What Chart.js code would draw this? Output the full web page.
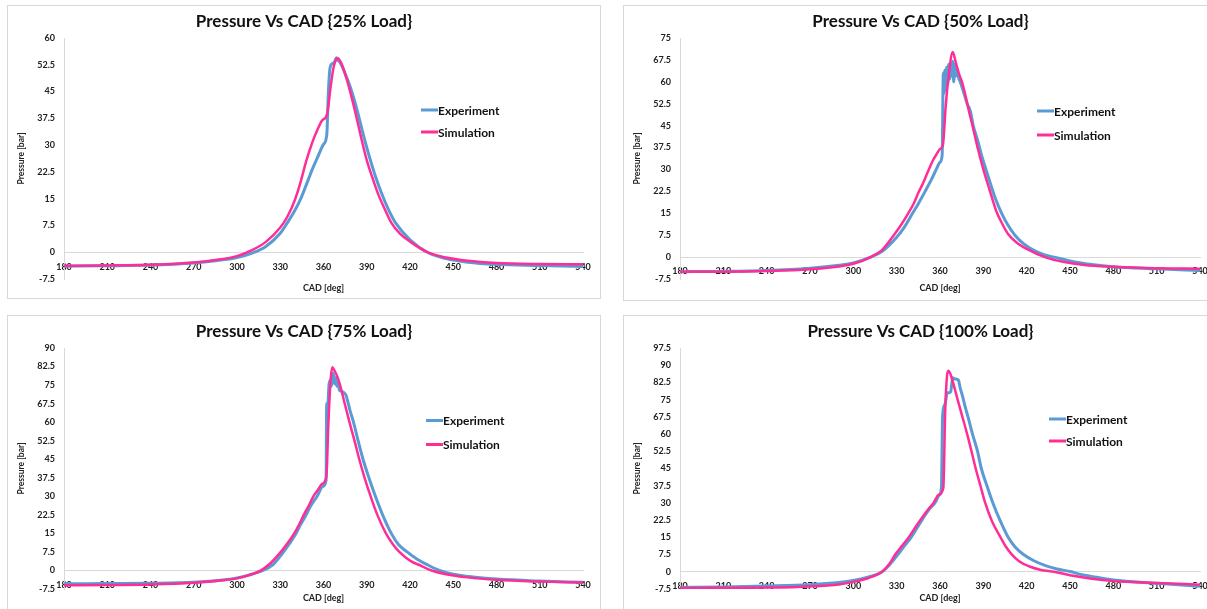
<!DOCTYPE html>
<html>
<head>
<meta charset="utf-8">
<script src="https://cdn.jsdelivr.net/npm/chart.js@4"></script>
<style>
  html, body { margin: 0; padding: 0; background: #fff; overflow: hidden; }
  body { width: 1207px; height: 609px; position: relative; }
  .panel { position: absolute; border: 1px solid #d9d9d9; box-sizing: border-box; background: #fff; overflow: hidden; }
  .panel canvas { position: absolute; left: 0; top: 0; }
</style>
</head>
<body>
<div class="panel" style="left:7px;top:5px;width:594px;height:294px"><canvas id="c25" width="592" height="293"></canvas></div>
<div class="panel" style="left:623px;top:5px;width:600px;height:296px"><canvas id="c50" width="600" height="293"></canvas></div>
<div class="panel" style="left:7px;top:315px;width:594px;height:300px"><canvas id="c75" width="592" height="293"></canvas></div>
<div class="panel" style="left:623px;top:315px;width:600px;height:300px"><canvas id="c100" width="600" height="293"></canvas></div>
<script>
'use strict';

// ---- data (CAD in deg, pressure in bar) ----
const cadTicks = [180, 210, 240, 270, 300, 330, 360, 390, 420, 450, 480, 510, 540];

// 25% load
const cad25Exp = [180, 210, 240, 270, 285, 300, 310, 320, 330, 335, 340, 344, 348, 352, 356, 360, 362.3, 363.3, 364.5, 366, 367.5, 369, 370.5, 372, 374, 377, 380, 383, 386, 389, 392, 396, 400, 405, 410, 420, 432, 445, 460, 480, 510, 540];
const p25Exp = [-3.9, -3.8, -3.6, -3.0, -2.4, -1.5, -0.3, 1.6, 5.3, 8.3, 11.6, 14.8, 18.8, 23, 26.7, 30.2, 33, 44, 51.5, 52.8, 53.2, 54.5, 53.6, 52.8, 51, 48, 44.5, 40.3, 35.5, 30.8, 26.5, 21.3, 16.8, 12, 8.2, 3.5, 0, -1.8, -2.8, -3.4, -3.7, -4.0];
const cad25Sim = [180, 210, 240, 270, 285, 300, 310, 320, 330, 335, 340, 344, 348, 352, 356, 359, 362.5, 365, 367, 369, 370, 371.5, 373.5, 376, 379, 382, 386, 390, 394, 398, 402, 407, 413, 420, 432, 445, 460, 480, 510, 540];
const p25Sim = [-3.8, -3.7, -3.5, -2.9, -2.2, -1.1, 0.5, 2.9, 6.9, 10, 14.5, 19.5, 25.5, 30.5, 34.5, 36.9, 38.7, 46.5, 51.8, 54.1, 54.3, 53.6, 51.8, 48.6, 44.2, 39.3, 32.3, 25.8, 20.8, 16.2, 12.5, 8.3, 5.2, 3.0, 0, -1.5, -2.4, -3.0, -3.3, -3.4];

// 50% load
const cad50Exp = [180, 210, 240, 270, 290, 300, 312, 320, 330, 335, 341, 345, 349.7, 354, 357.4, 360, 361.5, 362.3, 362.8, 363.3, 364, 364.6, 365.3, 366, 366.7, 367.4, 368.1, 368.8, 369.5, 370.2, 371, 371.8, 372.8, 374, 376, 378.8, 381, 383, 386, 389, 391.8, 395, 398, 402.7, 407, 411.9, 418, 425, 432, 439, 450, 465, 480, 510, 540];
const p50Exp = [-5.0, -4.9, -4.6, -3.8, -2.8, -2.0, 0, 2.0, 6.8, 10, 15, 18.3, 22.5, 26.5, 30, 32.5, 35, 63, 56, 64, 57, 65, 59, 66, 61, 66.5, 62, 67, 60, 66, 62, 64.5, 61.5, 60, 57, 52.5, 50, 45, 40, 34.5, 30, 25, 20.5, 15, 11, 7.5, 4.5, 2.3, 0.8, 0, -1.3, -2.5, -3.3, -4.0, -4.6];
const cad50Sim = [180, 210, 240, 270, 290, 300, 312, 320, 328, 333, 338, 342, 345, 348, 351, 355, 358, 360, 362, 364, 366, 368.8, 371, 373, 375.5, 378, 380, 382.5, 386, 390, 394, 399, 403, 407, 413, 420, 433, 445, 460, 480, 510, 540];
const p50Sim = [-5.0, -5.0, -4.8, -4.2, -3.2, -2.3, 0, 2.5, 7.5, 11, 15, 18.5, 22, 25, 28.5, 33, 35.5, 37, 38.3, 52, 62, 70.2, 66.5, 63, 59.5, 54.5, 50, 45, 37.5, 30, 23.5, 15.7, 11.5, 8, 5, 2.8, -0.1, -1.6, -2.7, -3.3, -3.8, -4.0];

// 75% load
const cad75Exp = [180, 210, 240, 270, 290, 300, 308, 318, 325, 331, 336, 340.5, 344, 347.5, 351, 355.6, 359.5, 361.8, 362.2, 363, 363.8, 364.6, 365.4, 366.2, 366.8, 367.6, 368.4, 369.2, 370, 371, 372.5, 374, 375.5, 377, 378.5, 380.8, 384, 387.4, 391.5, 396, 401, 407, 412, 418, 425, 432, 440.5, 450, 465, 480, 510, 540];
const p75Exp = [-5.4, -5.3, -5.2, -4.8, -3.9, -3.0, -1.9, 0, 2.4, 6.5, 10.5, 14.5, 18.5, 22, 26, 30, 34, 36.5, 67.5, 67.5, 75, 77, 74.5, 78, 79.8, 75.5, 78, 74.5, 76, 73, 72.5, 72, 71, 68, 64.5, 60, 52.5, 45, 37.5, 30, 22.5, 15, 10.5, 7.5, 4.5, 2.3, 0, -1.5, -2.7, -3.5, -4.3, -4.8];
const cad75Sim = [180, 210, 240, 270, 290, 300, 308, 316, 323, 330.4, 335, 339.7, 343, 346.3, 350, 353, 356, 359, 362, 363.3, 364.8, 366.1, 367.5, 369.5, 371.5, 374.5, 378, 381.5, 384.8, 388.5, 392.7, 397, 403.3, 408, 412.6, 420, 428, 435, 445, 460, 480, 510, 540];
const p75Sim = [-6.0, -5.9, -5.7, -5.0, -4.0, -3.2, -2.0, -0.2, 2.8, 7.5, 11, 15, 18.5, 22.5, 26.5, 30, 32.5, 35, 38, 58, 76, 82.2, 81, 78.5, 75, 68, 60, 52.5, 45, 37.5, 30, 23, 15, 10.7, 7.5, 4.0, 1.8, 0, -1.5, -2.8, -3.8, -4.5, -4.9];

// 100% load
const cad100Exp = [180, 210, 240, 270, 290, 300, 310, 320, 325, 330, 335, 340, 345, 350, 353.5, 356.5, 359.5, 361, 361.8, 363.5, 365, 366.2, 367.4, 368.8, 370.5, 372.7, 374, 375.4, 377.4, 379.4, 382.5, 386, 388.6, 392.5, 396.6, 401.5, 407.2, 412, 417.8, 425, 433, 441, 450.9, 455, 465, 480, 510, 540];
const p100Exp = [-6.8, -6.6, -6.2, -5.6, -4.7, -3.8, -2.3, 0, 3.0, 6.8, 11, 15, 20, 25, 28, 30, 33.5, 37, 68, 73, 78, 78, 78.5, 84.5, 84, 83.5, 80, 77, 72, 67.5, 60, 52.5, 45, 37.5, 30, 22.5, 15, 10.8, 7.5, 4.8, 2.7, 1.2, 0, -0.8, -2.0, -3.6, -5.0, -6.3];
const cad100Sim = [180, 210, 240, 270, 290, 300, 310, 319.8, 325, 329, 334, 338.3, 342, 346.3, 351, 355.5, 359, 362.3, 363.6, 364.8, 365.8, 367, 369, 372.2, 375.5, 378.8, 381.8, 384.7, 388, 391.3, 396, 401.9, 405.5, 409.8, 415, 422, 430, 439, 450, 465, 480, 510, 540];
const p100Sim = [-7.1, -7.0, -6.9, -6.4, -5.5, -4.4, -2.8, 0, 3.5, 7.5, 11.5, 15, 18.5, 22.5, 26.5, 30, 33.5, 36.5, 70, 85, 87.6, 86.5, 82.5, 75, 67.5, 60, 52.5, 45, 37.5, 30, 22, 15, 11, 7.5, 4.5, 2.3, 0.8, 0, -1.5, -3.0, -4.0, -4.9, -5.6];

const legendOrder = ['Experiment', 'Simulation'];
const FONT = 'Lato, "Open Sans", sans-serif';

function toPoints(xs, ys) {
  return xs.map(function (x, i) { return { x: x, y: ys[i] }; });
}

// legend drawn inside the plot, like the Excel original
const insideLegend = {
  id: 'insideLegend',
  afterDatasetsDraw(chart, args, opts) {
    const ctx = chart.ctx;
    const area = chart.chartArea;
    ctx.save();
    ctx.font = 'bold 12px ' + FONT;
    ctx.textBaseline = 'middle';
    ctx.textAlign = 'left';
    legendOrder.forEach(function (label, i) {
      const ds = chart.data.datasets.find(function (d) { return d.label === label; });
      const x = area.left + opts.x;
      const y = area.top + opts.y + i * opts.gap;
      ctx.strokeStyle = ds.borderColor;
      ctx.lineWidth = 3;
      ctx.beginPath();
      ctx.moveTo(x, y);
      ctx.lineTo(x + 17, y);
      ctx.stroke();
      ctx.fillStyle = '#111';
      ctx.fillText(label, x + 17, y + 1);
    });
    ctx.restore();
  }
};

function makeChart(id, title, maxY, exp, sim, legendPos, padRight) {
  return new Chart(document.getElementById(id), {
    type: 'line',
    data: {
      datasets: [{
        label: 'Experiment',
        data: exp,
        borderColor: '#5B9BD5',
        borderWidth: 3,
        pointRadius: 0,
        cubicInterpolationMode: 'monotone',
        order: 1,
      }, {
        label: 'Simulation',
        data: sim,
        borderColor: '#FF2E96',
        borderWidth: 2.5,
        pointRadius: 0,
        cubicInterpolationMode: 'monotone',
        order: 0,
      }],
    },
    options: {
      responsive: false,
      animation: false,
      layout: { padding: { left: 17, right: padRight, top: 0, bottom: 0 } },
      plugins: {
        legend: { display: false },
        tooltip: { enabled: false },
        title: {
          display: true,
          text: title,
          color: '#111',
          font: { family: FONT, size: 17, weight: 'bold', lineHeight: 1.2 },
          padding: { top: 5, bottom: 6.6 },
        },
        insideLegend: legendPos,
      },
      scales: {
        x: {
          type: 'linear',
          position: { y: 0 },
          min: 180,
          max: 540,
          afterBuildTicks: function (scale) {
            scale.ticks = cadTicks.map(function (v) { return { value: v }; });
          },
          grid: { display: false, drawTicks: false },
          border: { display: true, color: '#d9d9d9', width: 1 },
          ticks: {
            padding: 9,
            maxRotation: 0,
            color: '#222',
            font: { family: FONT, size: 9, weight: 'bold' },
          },
        },
        xTitle: {
          type: 'linear',
          axis: 'x',
          position: 'bottom',
          afterFit: function (scale) { scale.height = 20; },
          grid: { display: false, drawTicks: false },
          border: { display: false },
          ticks: { display: false },
          title: {
            display: true,
            text: 'CAD [deg]',
            color: '#222',
            font: { family: FONT, size: 9, weight: 'bold', lineHeight: 1.2 },
            padding: { top: 0, bottom: 6 },
          },
        },
        y: {
          type: 'linear',
          min: -7.5,
          max: maxY,
          afterFit: function (scale) { scale.width = 39; },
          grid: { display: false, drawTicks: false },
          border: { display: true, color: '#d9d9d9', width: 1 },
          ticks: {
            stepSize: 7.5,
            padding: 9,
            color: '#222',
            font: { family: FONT, size: 9, weight: 'bold' },
          },
          title: {
            display: true,
            text: 'Pressure [bar]',
            color: '#222',
            font: { family: FONT, size: 8.5, weight: 'bold', lineHeight: 1.2 },
            // pulled left into the layout padding so the chart title stays centred on the panel
            padding: { top: -9, bottom: 0 },
          },
        },
      },
    },
    plugins: [insideLegend],
  });
}

makeChart('c25', 'Pressure Vs CAD {25% Load}', 60,
  toPoints(cad25Exp, p25Exp), toPoints(cad25Sim, p25Sim), { x: 357, y: 72, gap: 22 }, 17);
makeChart('c50', 'Pressure Vs CAD {50% Load}', 75,
  toPoints(cad50Exp, p50Exp), toPoints(cad50Sim, p50Sim), { x: 357, y: 73, gap: 24 }, 24);
makeChart('c75', 'Pressure Vs CAD {75% Load}', 90,
  toPoints(cad75Exp, p75Exp), toPoints(cad75Sim, p75Sim), { x: 362, y: 72.5, gap: 24 }, 17);
makeChart('c100', 'Pressure Vs CAD {100% Load}', 97.5,
  toPoints(cad100Exp, p100Exp), toPoints(cad100Sim, p100Sim), { x: 369, y: 71, gap: 22 }, 24);
</script>
</body>
</html>
